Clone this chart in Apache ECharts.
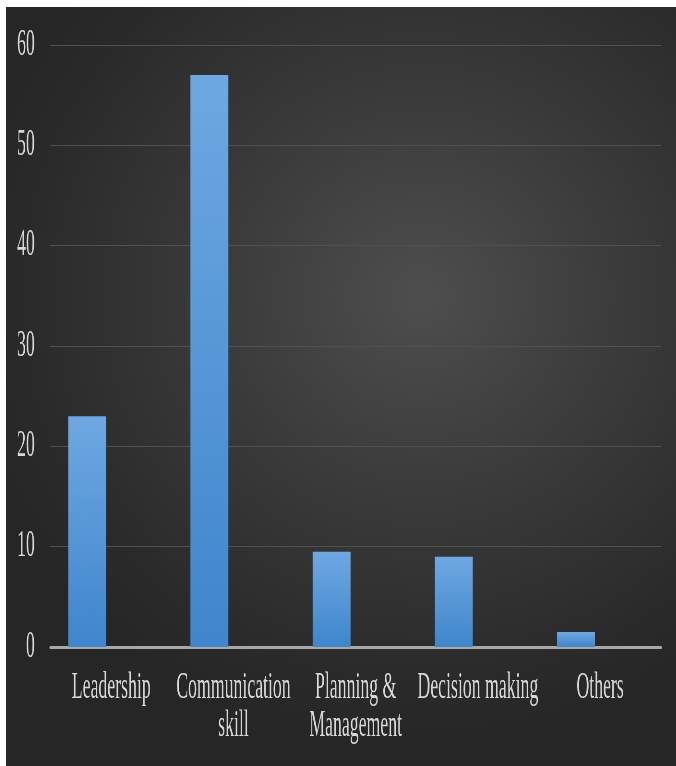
<!DOCTYPE html>
<html>
<head>
<meta charset="utf-8">
<script src="https://cdn.jsdelivr.net/npm/echarts@6/dist/echarts.min.js"></script>
<style>
html,body{margin:0;padding:0;background:#fff;width:676px;height:766px;overflow:hidden;}
#bg{position:absolute;left:6px;top:7px;width:670px;height:759px;
background:radial-gradient(ellipse 70% 60% at 62% 38%, #4e4e4e 0%, #3a3a3a 45%, #2a2a2a 85%, #262626 100%);}
#chart{position:absolute;left:6px;top:7px;width:1396px;height:759px;transform:scaleX(0.48);transform-origin:0 0;}
</style>
</head>
<body>
<div id="bg"></div>
<div id="chart"></div>
<script>
const categories = ['Leadership', 'Communication\nskill', 'Planning &\nManagement', 'Decision making', 'Others'];
const values = [23, 57, 9.5, 9, 1.5];
const emptySlot = [null, null, null, null, null];
const yTicks = { min: 0, max: 60, interval: 10 };

const chart = echarts.init(document.getElementById('chart'), null, { renderer: 'canvas' });
const textColor = '#d8d8d8';
const fontFamily = '"Liberation Serif", "Times New Roman", serif';
chart.setOption({
  backgroundColor: 'transparent',
  animation: false,
  grid: { left: 92, right: 31, top: 38, bottom: 119, containLabel: false },
  xAxis: {
    type: 'category',
    data: categories,
    axisLine: { show: true, lineStyle: { color: '#a8a8a8', width: 3 } },
    axisTick: { show: false },
    axisLabel: { color: textColor, fontFamily: fontFamily, fontSize: 37, lineHeight: 38, margin: 22, interval: 0 }
  },
  yAxis: {
    type: 'value',
    min: yTicks.min, max: yTicks.max, interval: yTicks.interval,
    axisLine: { show: false },
    axisTick: { show: false },
    splitLine: { lineStyle: { color: '#505050', width: 1 } },
    axisLabel: { color: textColor, fontFamily: fontFamily, fontSize: 37, margin: 32 }
  },
  series: [
    {
      type: 'bar',
      data: values,
      barWidth: 79,
      barGap: '27%',
      itemStyle: {
        color: new echarts.graphic.LinearGradient(0, 0, 0, 1, [
          { offset: 0, color: '#6ea8e2' },
          { offset: 1, color: '#3f86cc' }
        ])
      }
    },
    {
      type: 'bar',
      data: emptySlot,
      barWidth: 79,
      itemStyle: { color: 'transparent' }
    }
  ]
});
</script>
</body>
</html>
